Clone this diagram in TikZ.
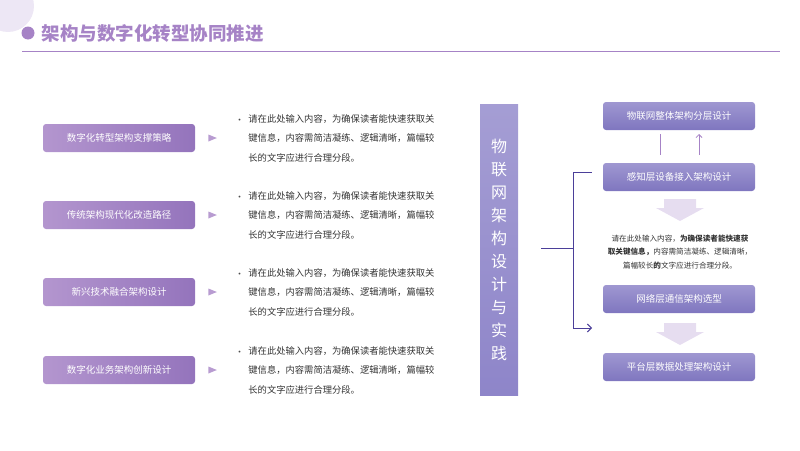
\documentclass[tikz,border=0pt]{standalone}
\usepackage{fontspec}
\setmainfont{Noto Sans CJK SC}
\usetikzlibrary{positioning,arrows.meta,shapes.geometric}
\definecolor{lilac}{HTML}{A683C6}
\definecolor{lilacdark}{HTML}{9474BC}
\definecolor{violet}{HTML}{8E85C9}
\definecolor{violetdark}{HTML}{7F76BF}
\definecolor{navy}{HTML}{4B3F99}
\definecolor{pale}{HTML}{E6DDF0}
\tikzset{left node/.style={shape=rectangle, rounded corners=3pt,
    minimum width=152pt, minimum height=28pt, text=white, font=\fontsize{9.5}{11}\selectfont,
    left color=lilac!85, right color=lilacdark},
  right node/.style={shape=rectangle, rounded corners=3pt,
    minimum width=152pt, minimum height=28pt, text=white, font=\fontsize{9.5}{11}\selectfont,
    top color=violet!85, bottom color=violetdark},
  body text/.style={align=left, font=\fontsize{9.3}{19.5}\selectfont, text=black!80, inner sep=0pt}}

\begin{document}
\begin{tikzpicture}[x=1pt,y=-1pt]
    \useasboundingbox (0,0) rectangle (800,450);
    % header
    \fill[pale!70] (8,6) circle (26);
    \fill[lilac] (28,33) circle (6.5);
    \node[anchor=west, text=lilac, font=\fontsize{18.5}{22}\selectfont\bfseries] (title) at (38,33) {架构与数字化转型协同推进};
    \draw[lilac, line width=1pt] (22,51) -- (780,51);

    % left column
    \node[left node] (1) at (119,138) {数字化转型架构支撑策略};
    \node[left node] (2) at (119,215) {传统架构现代化改造路径};
    \node[left node] (3) at (119,292) {新兴技术融合架构设计};
    \node[left node] (4) at (119,370) {数字化业务架构创新设计};

    \foreach \n in {1,2,3,4} {
        \node[isosceles triangle, fill=lilac!80, minimum size=7pt, inner sep=0pt, right = 13pt of \n] (t\n) {};
        \node[body text, anchor=west, right = 53pt of \n] (p\n) {请在此处输入内容，为确保读者能快速获取关\\键信息，内容需简洁凝练、逻辑清晰，篇幅较\\长的文字应进行合理分段。};
        \node[anchor=east, font=\small, text=black!70, inner sep=0pt] (b\n) at ([xshift=-4pt,yshift=-7pt]p\n.north west) {·};
    }

    % centre
    \node[shape=rectangle, minimum width=38pt, minimum height=291pt,
        top color=violet!80, bottom color=violet, text=white, align=center,
        font=\fontsize{16}{23}\selectfont] (5) at (499,250) {物\\联\\网\\架\\构\\设\\计\\与\\实\\践};

    % right column
    \node[right node] (6) at (679,116) {物联网整体架构分层设计};
    \node[right node] (7) at (679,177) {感知层设备接入架构设计};
    \node[right node] (8) at (679,299) {网络层通信架构选型};
    \node[right node] (9) at (679,367) {平台层数据处理架构设计};
    \node[align=center, font=\fontsize{7.6}{13.5}\selectfont, text=black!80] (10) at (680,252)
        {请在此处输入内容，\textbf{为确保读者能快速获}\\\textbf{取关键信息，}内容需简洁凝练、逻辑清晰，\\篇幅较长\textbf{的}文字应进行合理分段。};

    % fat arrows
    \foreach \y in {199,323} {
        \fill[pale] (664,\y) -- (696,\y) -- (696,\y+9) -- (704,\y+9) -- (680,\y+22) -- (656,\y+9) -- (664,\y+9) -- cycle;
    }

    \coordinate (s) at (541,248);
    \coordinate (k) at (573,248);
    \coordinate (u) at (592,172);
    \coordinate (d) at (592,328);
    \path[draw, navy, line width=1pt, -{Straight Barb[length=4pt]}]
    (s) -- (k) |- (u)
    (k) |- (d)
    ;
    \coordinate (d1) at (660,134);
    \coordinate (d2) at (660,155);
    \coordinate (u1) at (699,155);
    \coordinate (u2) at (699,134);
    \path[draw, lilac, line width=0.8pt, -{Straight Barb[length=3pt]}]
    (d1) -- (d2)
    (u1) -- (u2)
    ;
\end{tikzpicture}
\end{document}
